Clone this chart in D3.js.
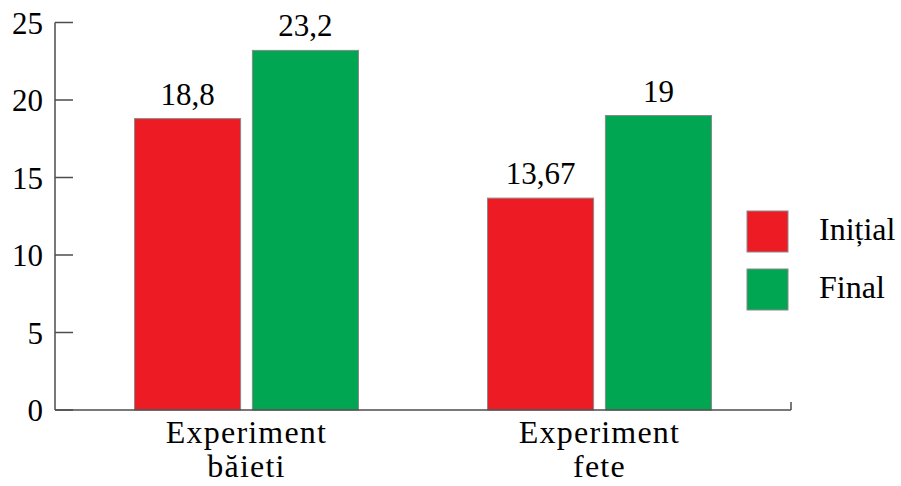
<!DOCTYPE html>
<html>
<head>
<meta charset="utf-8">
<script src="https://cdn.jsdelivr.net/npm/d3@7"></script>
</head>
<body style="margin:0">
<svg id="s" width="901" height="486"></svg>
<script>
// Groups (two-line labels) and series
const categories = ["Experiment băieti", "Experiment fete"];
const categoryLines = [["Experiment", "băieti"], ["Experiment", "fete"]];
const seriesNames = ["Inițial", "Final"];
const seriesColors = ["#ED1C24", "#00A651"];
const initialValues = [18.8, 13.67];
const finalValues = [23.2, 19];
const valueLabels = [["18,8", "23,2"], ["13,67", "19"]];
const yTicks = [0, 5, 10, 15, 20, 25];

const svg = d3.select("#s");
const familyParts = ["Liberation", "Serif"];
const fam = familyParts.join(" ");
const textColor = "#111";

const axisLeftX = 55, axisRightX = 791;
const y = d3.scaleLinear().domain([0, 25]).range([410, 22.5]);

const x0 = d3.scaleBand().domain(categories).range([70, 776]).padding(0);
const groupWidth = 224;
const x1 = d3.scaleBand().domain(seriesNames).range([0, groupWidth]).paddingInner(0.1);

const seriesValues = [initialValues, finalValues];
const bars = [];
categories.forEach((c, i) => {
  const gx = x0(c) + (x0.bandwidth() - groupWidth) / 2;
  seriesNames.forEach((s, j) => {
    bars.push({ c, i, s, j, v: seriesValues[j][i], label: valueLabels[i][j], x: gx + x1(s) });
  });
});

const axisColor = "#4d4d4d";

// Bars
svg.selectAll("rect.bar").data(bars).enter().append("rect")
  .attr("class", "bar")
  .attr("x", d => d.x)
  .attr("y", d => y(d.v))
  .attr("width", x1.bandwidth())
  .attr("height", d => y(0) - y(d.v))
  .attr("fill", d => seriesColors[d.j])
  .attr("stroke", "#8a8a8a")
  .attr("stroke-width", 1);

// Value labels above bars
svg.selectAll("text.val").data(bars).enter().append("text")
  .attr("class", "val")
  .attr("x", d => d.x + x1.bandwidth() / 2)
  .attr("y", d => y(d.v) - 14)
  .attr("text-anchor", "middle")
  .attr("font-size", 31)
  .style("font-family", () => `'${fam}'`)
  .text(d => d.label);

// Y axis
svg.append("line")
  .attr("x1", axisLeftX).attr("x2", axisLeftX)
  .attr("y1", y(25)).attr("y2", y(0))
  .attr("stroke", axisColor).attr("stroke-width", 1.5);
svg.selectAll("line.ytick").data(yTicks).enter().append("line")
  .attr("class", "ytick")
  .attr("x1", axisLeftX).attr("x2", axisLeftX + 18)
  .attr("y1", d => y(d)).attr("y2", d => y(d))
  .attr("stroke", axisColor).attr("stroke-width", 1.5);
svg.selectAll("text.ylab").data(yTicks).enter().append("text")
  .attr("class", "ylab")
  .attr("x", 43)
  .attr("y", d => y(d) + 11)
  .attr("text-anchor", "end")
  .attr("font-size", 31)
  .style("font-family", () => `'${fam}'`)
  .text(d => d);

// X axis
svg.append("line")
  .attr("x1", axisLeftX).attr("x2", axisRightX)
  .attr("y1", y(0)).attr("y2", y(0))
  .attr("stroke", axisColor).attr("stroke-width", 1.5);
svg.append("line")
  .attr("x1", axisRightX).attr("x2", axisRightX)
  .attr("y1", y(0)).attr("y2", y(0) - 8)
  .attr("stroke", axisColor).attr("stroke-width", 1.5);

const catLabels = [];
categories.forEach((c, i) => {
  categoryLines[i].forEach((line, k) => {
    catLabels.push({ c, line, k });
  });
});
svg.selectAll("text.xlab").data(catLabels).enter().append("text")
  .attr("class", "xlab")
  .attr("text-anchor", "middle")
  .attr("font-size", 32)
  .attr("letter-spacing", 1.2)
  .style("font-family", () => `'${fam}'`)
  .attr("x", d => x0(d.c) + x0.bandwidth() / 2)
  .attr("y", d => 443 + d.k * 34)
  .text(d => d.line);

// Legend
const legendY = [211, 269];
svg.selectAll("rect.key").data(seriesNames).enter().append("rect")
  .attr("class", "key")
  .attr("x", 747).attr("y", (d, j) => legendY[j])
  .attr("width", 41).attr("height", 41)
  .attr("fill", (d, j) => seriesColors[j])
  .attr("stroke", "#8a8a8a").attr("stroke-width", 1);
svg.selectAll("text.keylab").data(seriesNames).enter().append("text")
  .attr("class", "keylab")
  .attr("x", 819).attr("y", (d, j) => legendY[j] + 29)
  .attr("font-size", 32)
  .style("font-family", () => `'${fam}'`)
  .text(d => d);
</script>
</body>
</html>
